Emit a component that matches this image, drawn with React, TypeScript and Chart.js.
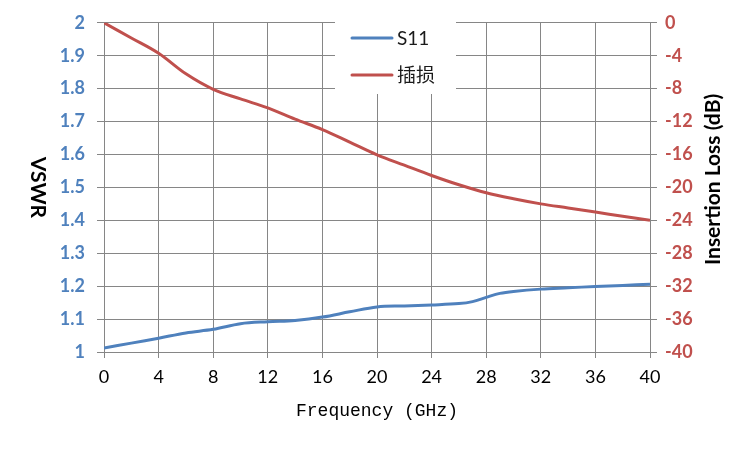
import React, { useEffect, useRef } from "react";
import { Chart, registerables } from "chart.js";
Chart.register(...registerables);

const s11Freq = [0, 2, 4, 6, 8, 10, 12, 14, 16, 18, 20, 22, 24, 26, 27, 28, 29, 30, 32, 34, 36, 38, 40];
const s11Vswr = [1.012, 1.027, 1.042, 1.058, 1.069, 1.086, 1.092, 1.096, 1.106, 1.122, 1.137, 1.14, 1.143, 1.147, 1.153, 1.166, 1.178, 1.184, 1.191, 1.195, 1.199, 1.202, 1.206];
const lossFreq = [0, 2, 4, 6, 8, 10, 12, 14, 16, 18, 20, 22, 24, 26, 28, 30, 32, 34, 36, 38, 40];
const insertionLoss = [0, -1.84, -3.7, -6.2, -8.08, -9.25, -10.34, -11.7, -12.97, -14.5, -16.04, -17.3, -18.55, -19.68, -20.65, -21.38, -22.0, -22.5, -23.0, -23.5, -24.0];
const seriesNames = ["S11", "插损"];
const xTitle = "Frequency (GHz)";
const yLeftTitle = "VSWR";
const yRightTitle = "Insertion Loss (dB)";

const BLUE = "#4F81BD";
const RED = "#C0504D";
const GRID = "#868686";
const TICK_FONT = "Lato, 'Open Sans', sans-serif";

const overlayPlugin = {
  id: "overlay",
  afterDraw(chart: any) {
    const ctx = chart.ctx;
    const area = chart.chartArea;
    ctx.save();
    // legend box
    ctx.fillStyle = "#ffffff";
    ctx.fillRect(335, 0, 121, 94);
    const entries = [
      { name: seriesNames[0], color: BLUE, y: 38 },
      { name: seriesNames[1], color: RED, y: 75 },
    ];
    ctx.lineWidth = 3;
    ctx.lineCap = "round";
    for (const e of entries) {
      ctx.strokeStyle = e.color;
      ctx.beginPath();
      ctx.moveTo(352, e.y);
      ctx.lineTo(392, e.y);
      ctx.stroke();
      ctx.fillStyle = "#1a1a1a";
      ctx.font = "19px Lato, 'Noto Sans CJK SC', sans-serif";
      ctx.textAlign = "left";
      ctx.textBaseline = "middle";
      ctx.fillText(e.name, 397, e.y + 1);
    }
    // axis titles
    const cy = (area.top + area.bottom) / 2;
    ctx.fillStyle = "#000000";
    ctx.font = "bold 21px Lato, 'Open Sans', sans-serif";
    ctx.textAlign = "center";
    ctx.textBaseline = "middle";
    ctx.save();
    ctx.translate(38, cy);
    ctx.rotate(Math.PI / 2);
    ctx.fillText(yLeftTitle, 0, 0);
    ctx.restore();
    ctx.save();
    ctx.translate(713, cy - 8);
    ctx.rotate(-Math.PI / 2);
    ctx.fillText(yRightTitle, 0, 0);
    ctx.restore();
    ctx.font = "18px 'Liberation Mono', 'DejaVu Sans Mono', monospace";
    ctx.fillText(xTitle, (area.left + area.right) / 2, 411);
    ctx.restore();
  },
};

export default function App() {
  const ref = useRef<HTMLCanvasElement | null>(null);
  useEffect(() => {
    if (!ref.current) return;
    const chart = new Chart(ref.current, {
      type: "line",
      data: {
        datasets: [
          {
            label: seriesNames[0],
            data: s11Freq.map((f, i) => ({ x: f, y: s11Vswr[i] })),
            borderColor: BLUE,
            backgroundColor: BLUE,
            borderWidth: 3,
            pointRadius: 0,
            tension: 0.35,
            yAxisID: "y",
          },
          {
            label: seriesNames[1],
            data: lossFreq.map((f, i) => ({ x: f, y: insertionLoss[i] })),
            borderColor: RED,
            backgroundColor: RED,
            borderWidth: 3,
            pointRadius: 0,
            tension: 0.35,
            yAxisID: "y1",
          },
        ],
      },
      options: {
        animation: false,
        responsive: true,
        maintainAspectRatio: false,
        layout: { padding: { top: 22, left: 0, right: 0, bottom: 0 } },
        plugins: { legend: { display: false }, tooltip: { enabled: false } },
        scales: {
          x: {
            type: "linear",
            min: 0,
            max: 40,
            afterFit: (s: any) => { s.height = 98; },
            ticks: { stepSize: 4, color: "#000", font: { family: TICK_FONT, size: 18 }, padding: 8, maxRotation: 0 },
            grid: { color: GRID, tickLength: 6, lineWidth: 1 },
            border: { color: GRID },
          },
          y: {
            position: "left",
            min: 1,
            max: 2,
            afterFit: (s: any) => { s.width = 104; },
            ticks: {
              stepSize: 0.1,
              color: BLUE,
              font: { family: TICK_FONT, size: 18, weight: "bold" },
              padding: 12,
              callback: (v: any) => String(Number(Number(v).toFixed(1))),
            },
            grid: { color: GRID, tickLength: 7, lineWidth: 1 },
            border: { color: GRID },
          },
          y1: {
            position: "right",
            min: -40,
            max: 0,
            afterFit: (s: any) => { s.width = 100; },
            ticks: {
              stepSize: 4,
              color: RED,
              font: { family: TICK_FONT, size: 18, weight: "bold" },
              padding: 8,
            },
            grid: { color: GRID, tickLength: 7, drawOnChartArea: false },
            border: { color: GRID },
          },
        },
      },
      plugins: [overlayPlugin],
    } as any);
    return () => chart.destroy();
  }, []);
  return (
    <div style={{ position: "absolute", left: 0, top: 0, width: 750, height: 450, background: "#fff" }}>
      <canvas ref={ref} />
    </div>
  );
}
